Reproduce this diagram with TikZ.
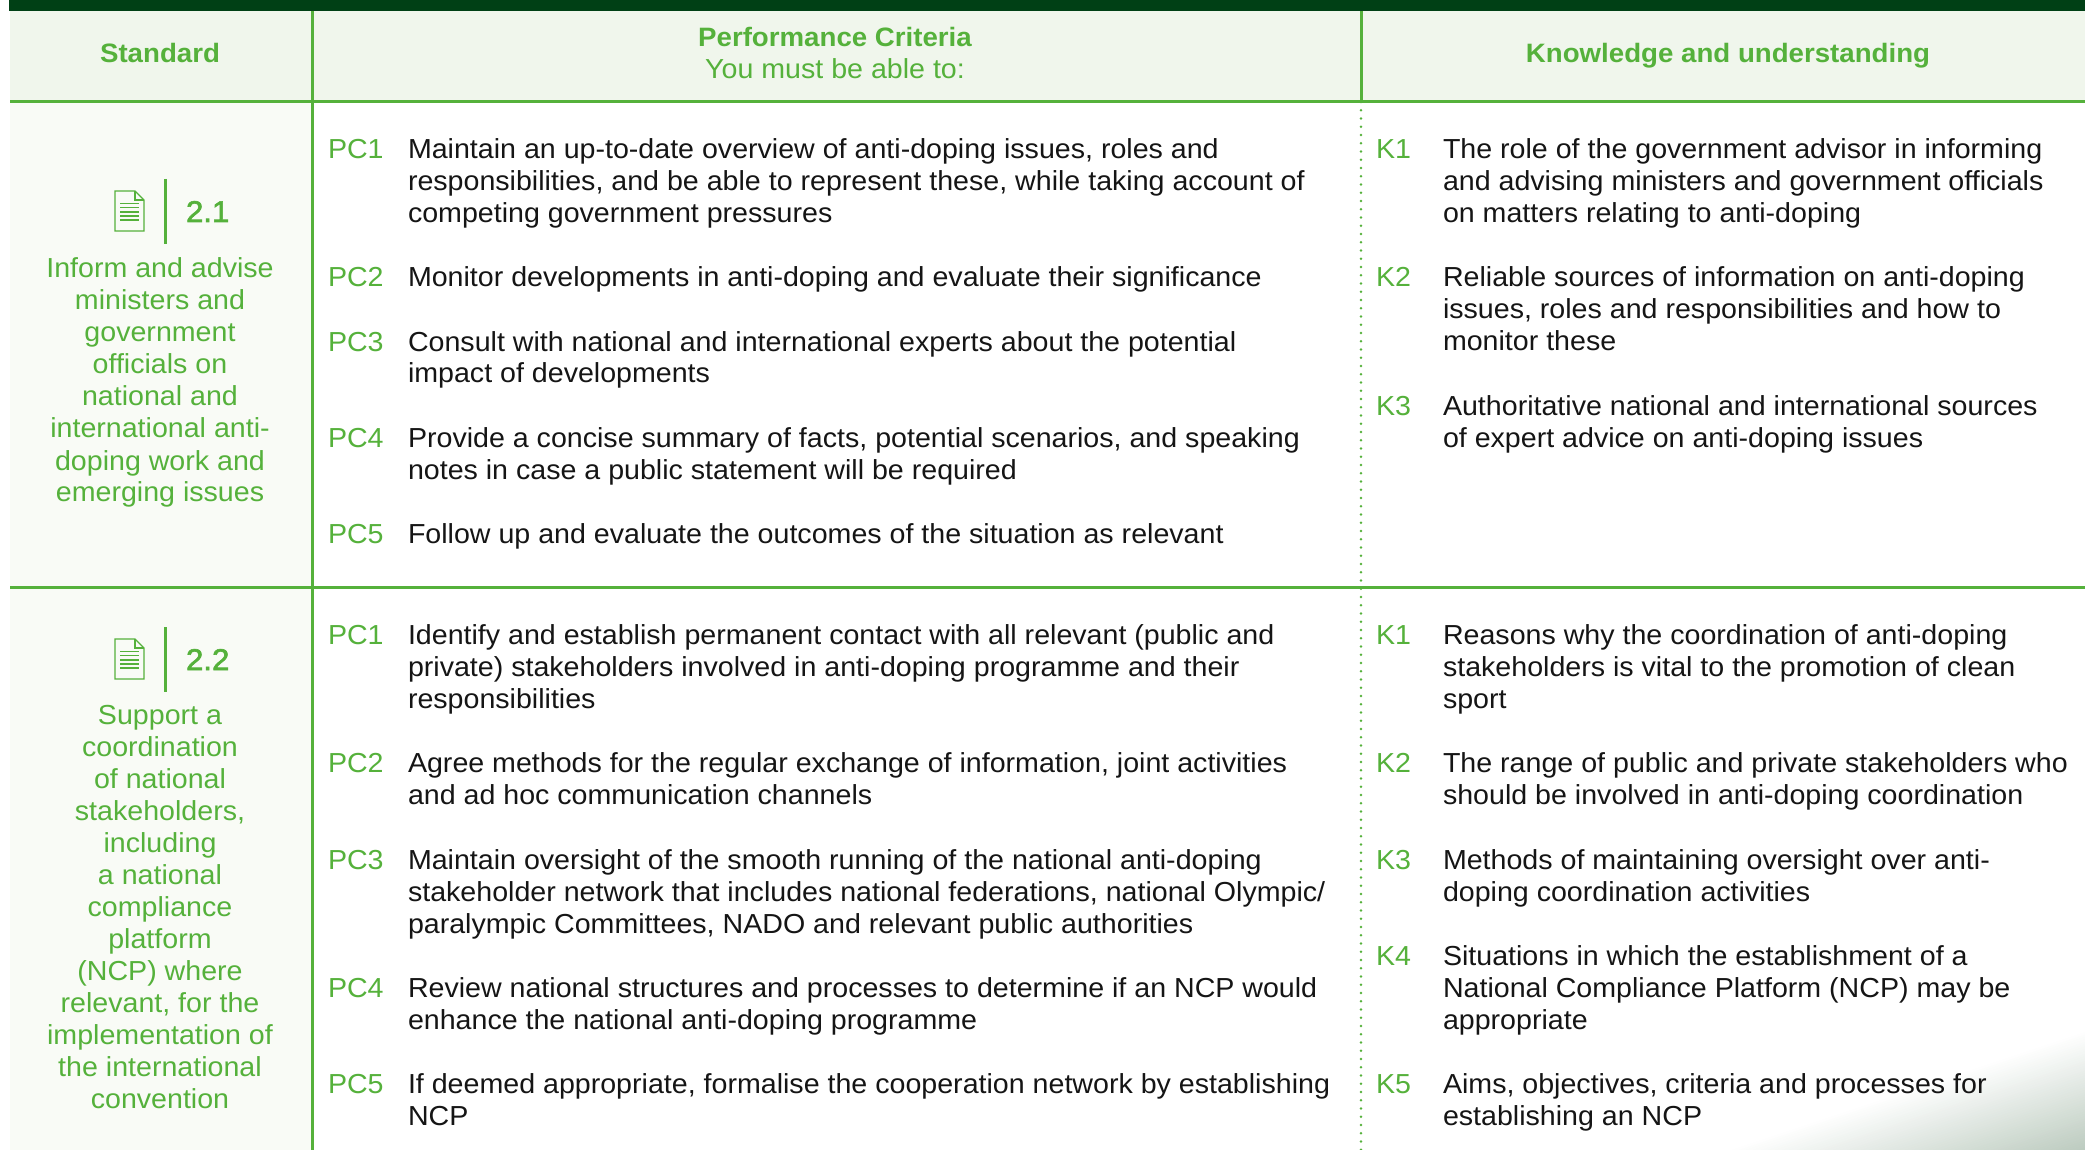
\documentclass[tikz,border=0pt]{standalone}
\usepackage{fontspec}
\setmainfont[FakeStretch=1.04]{Liberation Sans}
\definecolor{gr}{HTML}{55B13B}
\definecolor{dk}{HTML}{004015}
\definecolor{hd}{HTML}{F0F6EC}
\definecolor{col}{HTML}{F9FBF6}
\definecolor{ink}{HTML}{151515}
\definecolor{corner}{HTML}{BCCBBF}
\newcommand{\bodyfont}{\fontsize{27.5pt}{32pt}\selectfont}
\newcommand{\leftlines}[1]{\begin{tabular}[t]{@{}l@{}}#1\end{tabular}}
\newcommand{\midlines}[1]{\begin{tabular}[t]{@{}c@{}}#1\end{tabular}}
\tikzset{
  base/.style={inner sep=0pt,outer sep=0pt,font=\bodyfont},
  tag/.style={base,anchor=base west,text=gr,yshift=-1pt},
  item/.style={base,anchor=base west,text=ink,yshift=-1pt},
  standard/.style={base,anchor=base,text=gr},
  headb/.style={base,anchor=base,text=gr,font=\fontsize{26.6pt}{32pt}\selectfont\bfseries},
  headr/.style={base,anchor=base,text=gr},
  num/.style={base,anchor=base west,text=gr,font=\fontsize{30pt}{34pt}\selectfont\addfontfeature{FakeBold=2}},
  rule/.style={draw=gr,line width=3pt},
  dots/.style={draw=gr,line width=2.6pt,line cap=round,dash pattern=on 0pt off 8.25pt},
  docicon/.style={draw=gr,line width=1.3pt}
}
\newcommand{\docicon}[1]{%
  \begin{scope}[yshift=-#1pt]
    \draw[docicon] (115,191)--(135,191)--(144,200)--(144,231)--(115,231)--cycle;
    \draw[docicon] (135,191)--(135,200)--(144,200);
    \foreach \yy in {203.5,207.7,212,216,220} \draw[docicon] (120,\yy)--(139,\yy);
    \draw[gr,line width=3.4pt] (165.5,179)--(165.5,244);
  \end{scope}}
\begin{document}
\begin{tikzpicture}[x=1pt,y=-1pt]
\useasboundingbox (0,0) rectangle (2085,1150);
\fill[white] (0,0) rectangle (2085,1150);
% backgrounds
\fill[hd] (10,11) rectangle (2085,102);
\fill[col] (10,102) rectangle (312,1150);
\fill[dk] (9,0) rectangle (2085,11);
% corner wash
\foreach \t in {0,2,...,98}{
  \pgfmathsetmacro{\xa}{1725+3.6*\t}
  \pgfmathsetmacro{\ya}{1030+1.2*\t}
  \fill[corner!\t!white] (\xa,1150)--(2085,\ya)--(2085,1150)--cycle;
}
% rules
\coordinate (hl) at (10,102); \coordinate (hr) at (2085,102);
\coordinate (ml) at (10,587); \coordinate (mr) at (2085,587);
\coordinate (vt) at (312,11); \coordinate (vb) at (312,1150);
\coordinate (kt) at (1361,11); \coordinate (kh) at (1361,102); \coordinate (kb) at (1361,1150);
\draw[rule] (hl)--(hr);
\draw[rule] (ml)--(mr);
\draw[rule] (vt)--(vb);
\draw[rule] (kt)--(kh);
\draw[dots] (kh)--(kb);
% header
\node[headb] (hs) at (160,63) {Standard};
\node[headb] (hp) at (835,47) {Performance Criteria};
\node[headr] (hy) at (835,79) {You must be able to:};
\node[headb] (hk) at (1728,63) {Knowledge and understanding};
% standard 2.1
\docicon{0}
\node[num] (n21) at (186,222) {2.1};
\node[standard] (s21) at (160,278) {\midlines{Inform and advise\\ministers and\\government\\officials on\\national and\\international anti-\\doping work and\\emerging issues}};
% standard 2.2
\docicon{448}
\node[num] (n22) at (186,670) {2.2};
\node[standard] (s22) at (160,724) {\midlines{Support a\\coordination\\of national\\stakeholders,\\including\\a national\\compliance\\platform\\(NCP) where\\relevant, for the\\implementation of\\the international\\convention}};
% PC row 1
\node[tag] (a1t) at (328,158) {PC1};
\node[item] (a1) at (408,158) {\leftlines{Maintain an up-to-date overview of anti-doping issues, roles and\\responsibilities, and be able to represent these, while taking account of\\competing government pressures}};
\node[tag] (a2t) at (328,286) {PC2};
\node[item] (a2) at (408,286) {\leftlines{Monitor developments in anti-doping and evaluate their significance}};
\node[tag] (a3t) at (328,350) {PC3};
\node[item] (a3) at (408,350) {\leftlines{Consult with national and international experts about the potential\\impact of developments}};
\node[tag] (a4t) at (328,446) {PC4};
\node[item] (a4) at (408,446) {\leftlines{Provide a concise summary of facts, potential scenarios, and speaking\\notes in case a public statement will be required}};
\node[tag] (a5t) at (328,542) {PC5};
\node[item] (a5) at (408,542) {\leftlines{Follow up and evaluate the outcomes of the situation as relevant}};
% K row 1
\node[tag] (b1t) at (1376,158) {K1};
\node[item] (b1) at (1443,158) {\leftlines{The role of the government advisor in informing\\and advising ministers and government officials\\on matters relating to anti-doping}};
\node[tag] (b2t) at (1376,286) {K2};
\node[item] (b2) at (1443,286) {\leftlines{Reliable sources of information on anti-doping\\issues, roles and responsibilities and how to\\monitor these}};
\node[tag] (b3t) at (1376,414) {K3};
\node[item] (b3) at (1443,414) {\leftlines{Authoritative national and international sources\\of expert advice on anti-doping issues}};
% PC row 2
\node[tag] (c1t) at (328,643) {PC1};
\node[item] (c1) at (408,643) {\leftlines{Identify and establish permanent contact with all relevant (public and\\private) stakeholders involved in anti-doping programme and their\\responsibilities}};
\node[tag] (c2t) at (328,771) {PC2};
\node[item] (c2) at (408,771) {\leftlines{Agree methods for the regular exchange of information, joint activities\\and ad hoc communication channels}};
\node[tag] (c3t) at (328,868) {PC3};
\node[item] (c3) at (408,868) {\leftlines{Maintain oversight of the smooth running of the national anti-doping\\stakeholder network that includes national federations, national Olympic/\\paralympic Committees, NADO and relevant public authorities}};
\node[tag] (c4t) at (328,996) {PC4};
\node[item] (c4) at (408,996) {\leftlines{Review national structures and processes to determine if an NCP would\\enhance the national anti-doping programme}};
\node[tag] (c5t) at (328,1092) {PC5};
\node[item] (c5) at (408,1092) {\leftlines{If deemed appropriate, formalise the cooperation network by establishing\\NCP}};
% K row 2
\node[tag] (d1t) at (1376,643) {K1};
\node[item] (d1) at (1443,643) {\leftlines{Reasons why the coordination of anti-doping\\stakeholders is vital to the promotion of clean\\sport}};
\node[tag] (d2t) at (1376,771) {K2};
\node[item] (d2) at (1443,771) {\leftlines{The range of public and private stakeholders who\\should be involved in anti-doping coordination}};
\node[tag] (d3t) at (1376,868) {K3};
\node[item] (d3) at (1443,868) {\leftlines{Methods of maintaining oversight over anti-\\doping coordination activities}};
\node[tag] (d4t) at (1376,964) {K4};
\node[item] (d4) at (1443,964) {\leftlines{Situations in which the establishment of a\\National Compliance Platform (NCP) may be\\appropriate}};
\node[tag] (d5t) at (1376,1092) {K5};
\node[item] (d5) at (1443,1092) {\leftlines{Aims, objectives, criteria and processes for\\establishing an NCP}};
\end{tikzpicture}
\end{document}
